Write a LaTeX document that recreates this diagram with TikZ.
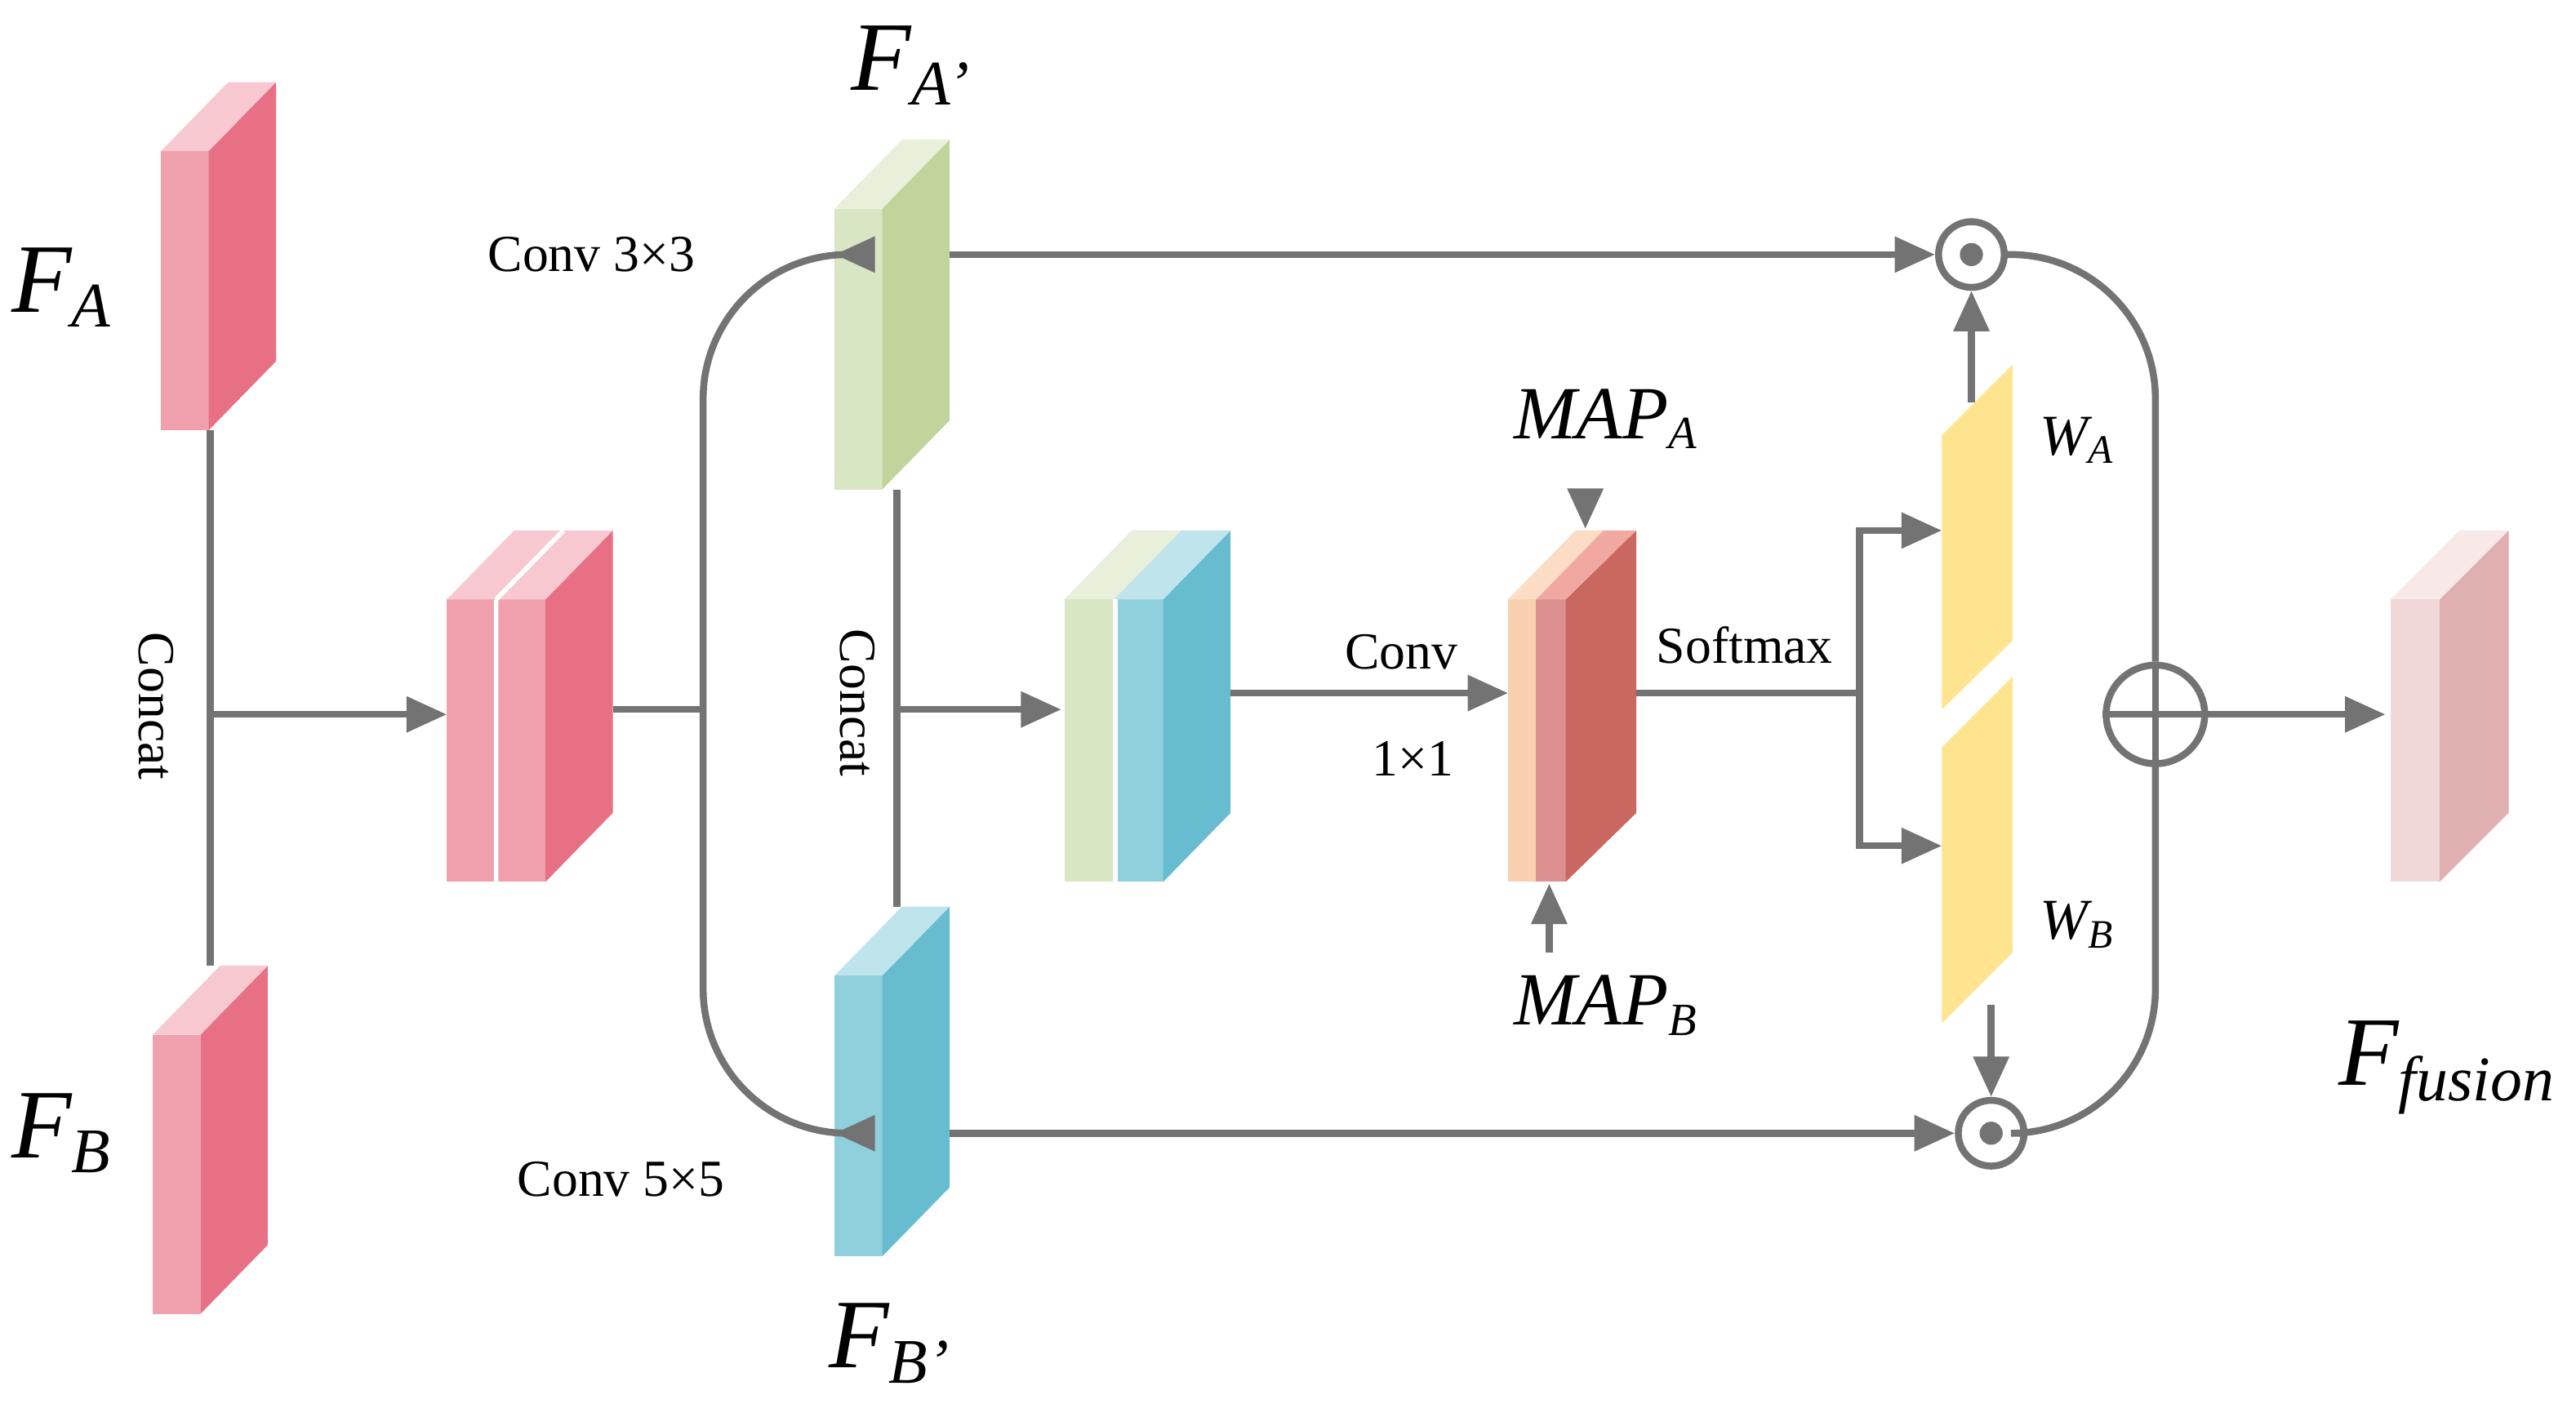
\documentclass[tikz,border=0pt]{standalone}
\usepackage{fontspec}
\setmainfont{Liberation Serif}
\usetikzlibrary{arrows.meta}
\newcommand\cube[8]{% x1 x2 ytop ybot xs front side top
 \fill[#6] (#1,#3) rectangle (#2,#4);
 \fill[#7] (#2,#3) -- (#5,#3-42) -- (#5,#4-42) -- (#2,#4) -- cycle;
 \fill[#8] (#1,#3) -- (#2,#3) -- (#5,#3-42) -- (#1+#5-#2,#3-42) -- cycle;}
\definecolor{pf}{HTML}{F0A0AC}\definecolor{ps}{HTML}{E87084}\definecolor{pt}{HTML}{F8C8D0}
\definecolor{gf}{HTML}{D8E6C4}\definecolor{gs}{HTML}{C0D49C}\definecolor{gt}{HTML}{E8F0DC}
\definecolor{bf}{HTML}{90D0DC}\definecolor{bs}{HTML}{68BCD0}\definecolor{bt}{HTML}{C0E4EC}
\definecolor{yl}{HTML}{FFE490}
\definecolor{mf}{HTML}{DC9090}\definecolor{ms}{HTML}{C86860}\definecolor{mt}{HTML}{F0A8A0}
\definecolor{mf2}{HTML}{F8D0B0}\definecolor{mt2}{HTML}{FCDCC4}
\definecolor{of}{HTML}{F0D8D8}\definecolor{os}{HTML}{E0B0B0}\definecolor{ot}{HTML}{F8E8E8}
\begin{document}
\begin{tikzpicture}[x=0.01cm,y=-0.01cm,
 ln/.style={draw=gray!90!black,line width=1.2pt},
 ar/.style={ln,-{Triangle[length=7pt,width=6pt]}},
 lab/.style={font=\fontsize{9}{10}\selectfont},
 big/.style={font=\fontsize{17}{18}\selectfont\itshape},
 mid/.style={font=\fontsize{13}{14}\selectfont\itshape}]
\useasboundingbox (0,0) rectangle (1568,868);
% blocks
\cube{98}{127}{92}{262}{168}{pf}{ps}{pt}
\cube{93}{122}{630}{800}{163}{pf}{ps}{pt}
\cube{272}{332}{365}{537}{373}{pf}{ps}{pt}
\draw[white,line width=0.8pt] (302,365)--(302,537) (302,365)--(343,323);
\cube{508}{537}{127}{298}{578}{gf}{gs}{gt}
\cube{508}{537}{594}{765}{578}{bf}{bs}{bt}
\cube{648}{708}{365}{537}{749}{bf}{bs}{bt}
\fill[gf] (648,365) rectangle (678,537);
\fill[gt] (648,365)--(678,365)--(719,323)--(689,323)--cycle;
\draw[white,line width=0.8pt] (679,365)--(679,537);
\cube{918}{953}{365}{537}{996}{mf}{ms}{mt}
\fill[mf2] (918,365) rectangle (935,537);
\fill[mt2] (918,365)--(935,365)--(976,323)--(959,323)--cycle;
\cube{1455}{1485}{365}{537}{1527}{of}{os}{ot}
\fill[yl] (1182,265)--(1225,222)--(1225,390)--(1182,432)--cycle;
\fill[yl] (1182,455)--(1225,412)--(1225,580)--(1182,623)--cycle;
% coordinates
\coordinate (fa) at (128,262); \coordinate (fb) at (128,588);
\coordinate (cj) at (128,435); \coordinate (m1) at (272,435);
\coordinate (m1o) at (373,432); \coordinate (br) at (428,432);
\coordinate (fai) at (508,155); \coordinate (fbi) at (508,690);
\coordinate (c2t) at (546,298); \coordinate (c2b) at (546,552);
\coordinate (c2j) at (546,432); \coordinate (cc) at (646,432);
\coordinate (cco) at (749,422); \coordinate (mp) at (918,422);
\coordinate (mpo) at (996,422); \coordinate (sj) at (1132,422);
\coordinate (wa) at (1182,323); \coordinate (wb) at (1182,515);
\node[circle,ln,minimum size=40*0.01cm,inner sep=0] (o1) at (1200,155) {};
\node[circle,ln,minimum size=40*0.01cm,inner sep=0] (o2) at (1212,690) {};
\fill[gray!90!black] (o1) circle (2pt) (o2) circle (2pt);
\node[circle,ln,minimum size=60*0.01cm,inner sep=0] (op) at (1312,435) {};
\draw[ln] (op.north)--(op.south) (op.west)--(op.east);
% connectors
\draw[ln] (fa)--(fb);
\draw[ar] (cj)--(m1);
\draw[ln] (m1o)--(br);
\draw[ar,rounded corners=25pt] (br)--(428,155)--(fai);
\draw[ar,rounded corners=25pt] (br)--(428,690)--(fbi);
\draw[ln] (c2t)--(c2b);
\draw[ar] (c2j)--(cc);
\draw[ar] (cco)--(mp);
\draw[ln] (mpo)--(sj);
\draw[ar] (sj)|-(wa);
\draw[ar] (sj)|-(wb);
\draw[ar] (578,155)--(o1.west);
\draw[ar] (578,690)--(o2.west);
\draw[ar] (1200,245)--(o1.south);
\draw[ar] (1212,612)--(o2.north);
\draw[ln,rounded corners=25pt] (o1.east)--(1312,155)--(op.north);
\draw[ln,rounded corners=25pt] (o2.east)--(1312,690)--(op.south);
\draw[ar] (op.east)--(1452,435);
\coordinate (ma) at (965,300); \coordinate (mat) at (965,322);
\coordinate (mb) at (943,580); \coordinate (mbt) at (943,538);
\draw[ar] (ma)--(mat); \draw[ar] (mb)--(mbt);
% labels
\node[big] (lfa) at (38,175) {F\textsubscript{\fontsize{11}{11}\selectfont A}};
\node[big] (lfb) at (38,690) {F\textsubscript{\fontsize{11}{11}\selectfont B}};
\node[big] (lfa2) at (555,40) {F\textsubscript{\fontsize{11}{11}\selectfont A'}};
\node[big] (lfb2) at (542,818) {F\textsubscript{\fontsize{11}{11}\selectfont B'}};
\node[big] (lff) at (1490,650) {F\textsubscript{\fontsize{11}{11}\selectfont fusion}};
\node[mid] (lma) at (978,255) {MAP\textsubscript{\fontsize{8}{8}\selectfont A}};
\node[mid] (lmb) at (978,612) {MAP\textsubscript{\fontsize{8}{8}\selectfont B}};
\node[font=\fontsize{10}{10}\selectfont\itshape] (lwa) at (1265,268) {W\textsubscript{\fontsize{7}{7}\selectfont A}};
\node[font=\fontsize{10}{10}\selectfont\itshape] (lwb) at (1265,563) {W\textsubscript{\fontsize{7}{7}\selectfont B}};
\node[lab] (l33) at (360,155) {Conv 3×3};
\node[lab] (l55) at (378,718) {Conv 5×5};
\node[lab] (lc1) at (853,397) {Conv};
\node[lab] (lc2) at (860,462) {1×1};
\node[lab] (lsm) at (1062,393) {Softmax};
\node[lab,rotate=-90] (lcc1) at (95,430) {Concat};
\node[lab,rotate=-90] (lcc2) at (522,428) {Concat};
\end{tikzpicture}
\end{document}
